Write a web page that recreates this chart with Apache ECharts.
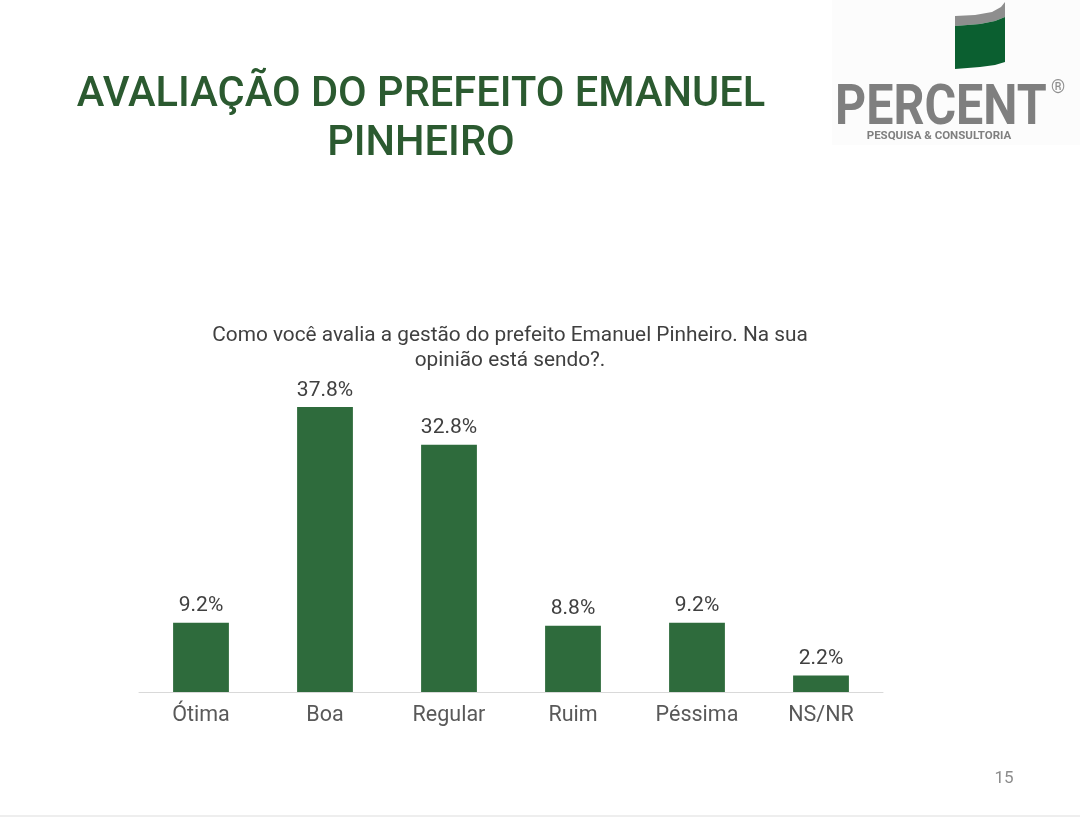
<!DOCTYPE html>
<html>
<head>
<meta charset="utf-8">
<script src="https://cdn.jsdelivr.net/npm/echarts@6/dist/echarts.min.js"></script>
<style>
html,body{margin:0;padding:0;background:#fff;}
#chart{width:1080px;height:820px;}
</style>
</head>
<body>
<div id="chart"></div>
<script>
const categories = ['Ótima', 'Boa', 'Regular', 'Ruim', 'Péssima', 'NS/NR'];
const values = [9.2, 37.8, 32.8, 8.8, 9.2, 2.2];
const titleLines = ['AVALIAÇÃO DO PREFEITO EMANUEL', 'PINHEIRO'];
const questionText = 'Como você avalia a gestão do prefeito Emanuel Pinheiro. Na sua\nopinião está sendo?.';
const pageNumber = '15';

const chart = echarts.init(document.getElementById('chart'));
const GREEN = '#2E6B3C';
const TITLE_GREEN = '#2B5A30';

chart.setOption({
  backgroundColor: '#ffffff',
  animation: false,
  grid: { left: 139, right: 197, top: 390.4, bottom: 128 },
  xAxis: {
    type: 'category',
    data: categories,
    axisLine: { show: true, lineStyle: { color: '#D9D9D9', width: 1 } },
    axisTick: { show: false },
    axisLabel: { color: '#595959', fontSize: 21.5, fontFamily: 'Roboto', margin: 13 }
  },
  yAxis: {
    type: 'value', min: 0, max: 40,
    show: false,
    splitLine: { show: false }
  },
  series: [{
    type: 'bar',
    data: values,
    barWidth: '45%',
    itemStyle: { color: GREEN },
    label: {
      show: true, position: 'top', distance: 6,
      color: '#404040', fontSize: 21, fontFamily: 'Roboto',
      formatter: p => p.value.toFixed(1) + '%'
    }
  }],
  graphic: [
    { type: 'text', x: 421, y: 96, style: { text: titleLines[0], fill: TITLE_GREEN, font: '500 41.6px Roboto', align: 'center', verticalAlign: 'middle' } },
    { type: 'text', x: 421, y: 145, style: { text: titleLines[1], fill: TITLE_GREEN, font: '500 41.6px Roboto', align: 'center', verticalAlign: 'middle' } },
    { type: 'text', x: 510, y: 348, style: { text: questionText, fill: '#404040', font: '20.8px Roboto', align: 'center', verticalAlign: 'middle', lineHeight: 25 } },
    { type: 'text', x: 1004, y: 779, style: { text: pageNumber, fill: '#8C8C8C', font: '17px Roboto', align: 'center', verticalAlign: 'middle' } },
    { type: 'line', shape: { x1: 0, y1: 816, x2: 1080, y2: 816 }, style: { stroke: '#EEEEEE', lineWidth: 2 } },
    // logo
    { type: 'rect', shape: { x: 832, y: 0, width: 248, height: 145 }, style: { fill: '#FCFCFC' }, z: 0 },
    { type: 'polygon', shape: { points: [[955,16],[975,15],[992,12],[1001,7],[1005,2],[1005,17],[995,21],[980,24],[955,26]] }, style: { fill: '#8E8E8E' } },
    { type: 'polygon', shape: { points: [[955,26],[980,24],[995,21],[1005,17],[1005,62],[995,65],[980,67],[955,69]] }, style: { fill: '#0B5F30' } },
    { type: 'text', x: 835, y: 110, scaleX: 0.88, style: { text: 'PERCENT', fill: '#7F7F7F', font: 'bold 55px Roboto', verticalAlign: 'middle' } },
    { type: 'text', x: 1058, y: 88, style: { text: '®', fill: '#8E8E8E', font: '18px Roboto', align: 'center', verticalAlign: 'middle' } },
    { type: 'text', x: 939, y: 136, style: { text: 'PESQUISA & CONSULTORIA', fill: '#7F7F7F', font: 'bold 11.5px Roboto', align: 'center', verticalAlign: 'middle' } }
  ]
});
</script>
</body>
</html>
